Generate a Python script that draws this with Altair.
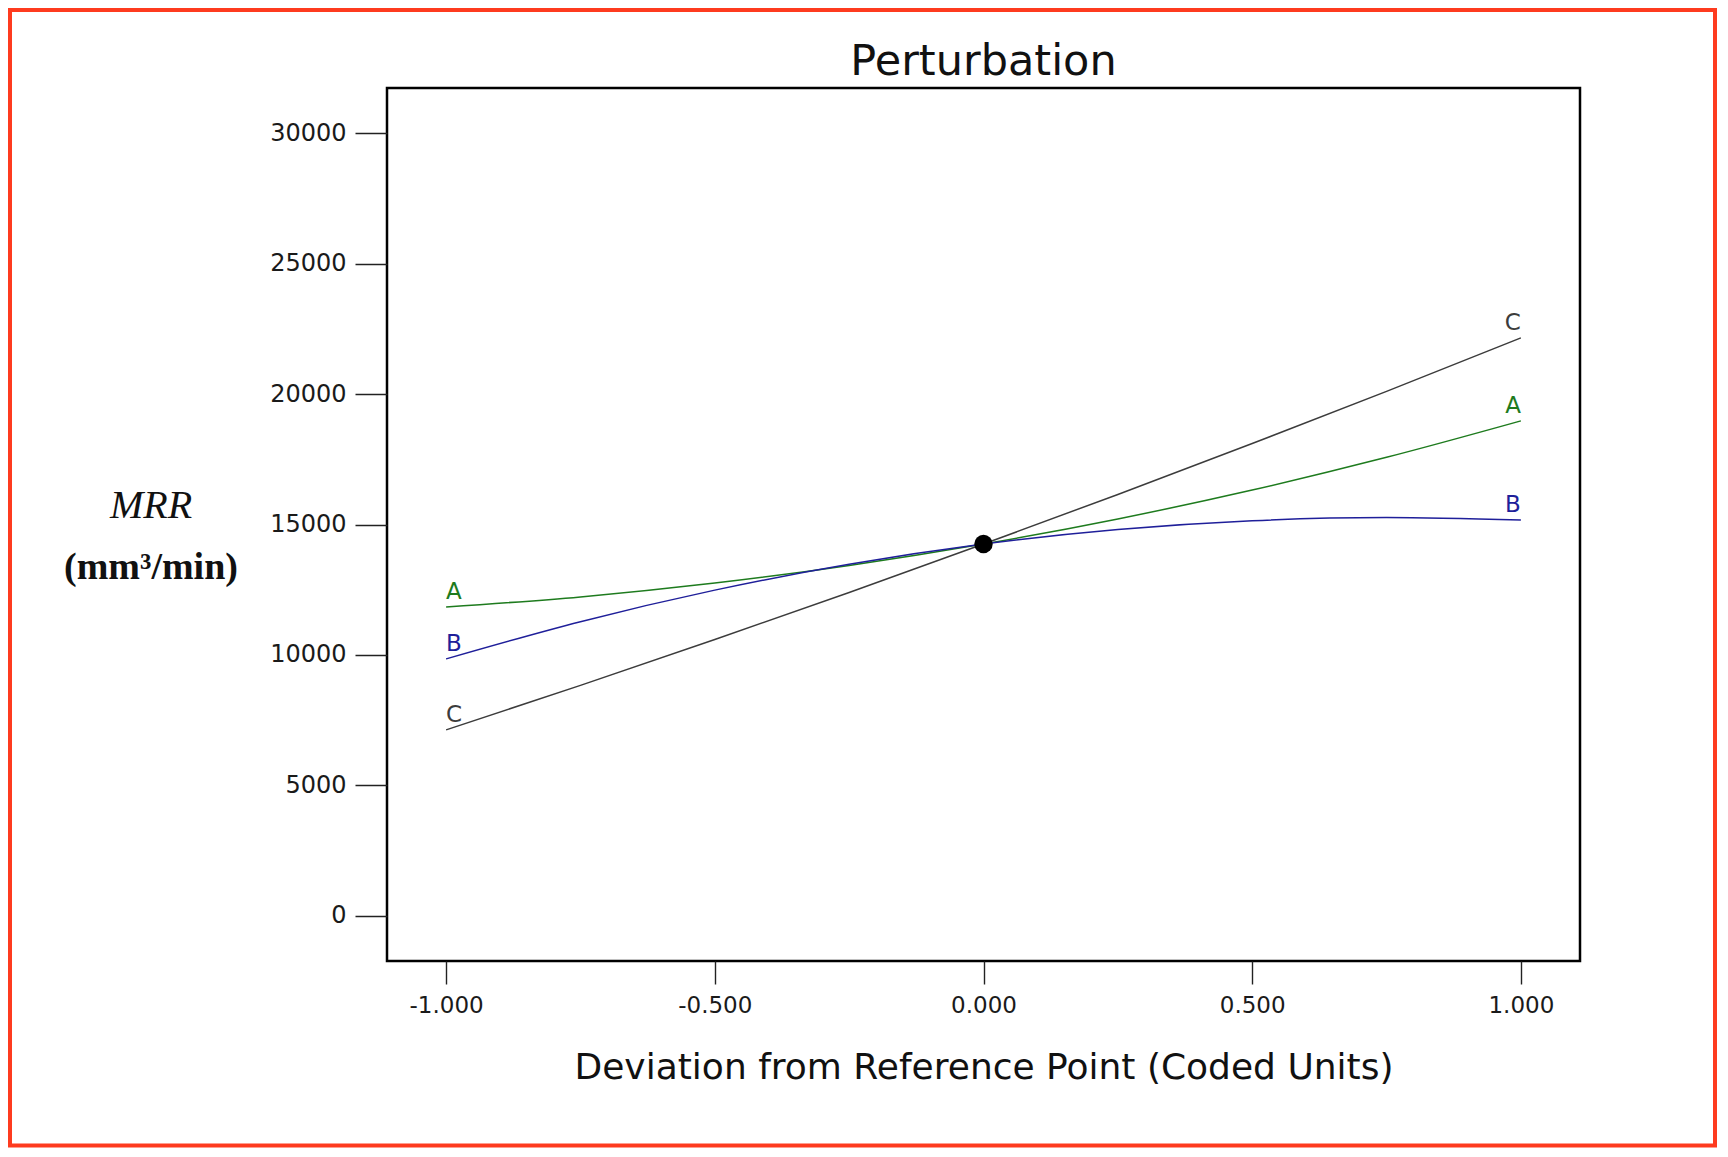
import altair as alt
import pandas as pd

# ---- data ----
x_points = [-1.0, -0.75, -0.5, -0.25, 0.0, 0.25, 0.5, 0.75, 1.0]
series_A = [11840, 12226, 12756, 13431, 14250, 15213, 16321, 17574, 18970]
series_B = [9850, 11276, 12485, 13476, 14250, 14806, 15145, 15266, 15170]
series_C = [7130, 8837, 10593, 12397, 14250, 16152, 18103, 20102, 22150]
factors = ["A", "B", "C"]
factor_colors = ["#1e7b1e", "#1f1f9a", "#3c3c3c"]
ref_x = [0.0]
ref_y = [14250]
x_ticks = [-1.0, -0.5, 0.0, 0.5, 1.0]
y_ticks = [0, 5000, 10000, 15000, 20000, 25000, 30000]
title_text = "Perturbation"
x_title = "Deviation from Reference Point (Coded Units)"
y_title_lines = ["MRR", "(mm³/min)"]

series = {"A": series_A, "B": series_B, "C": series_C}

rows = []
for f in factors:
    for xv, yv in zip(x_points, series[f]):
        rows.append({"factor": f, "x": xv, "value": yv})
df = pd.DataFrame(rows)

left_lab = pd.DataFrame({"factor": factors,
                         "x": [x_points[0]] * 3,
                         "value": [series[f][0] for f in factors]})
right_lab = pd.DataFrame({"factor": factors,
                          "x": [x_points[-1]] * 3,
                          "value": [series[f][-1] for f in factors]})
ref_df = pd.DataFrame({"x": ref_x, "value": ref_y})

FONT = "DejaVu Sans"

x_enc = alt.X("x:Q",
              scale=alt.Scale(domain=[-1.11, 1.11], nice=False, zero=False),
              axis=alt.Axis(values=x_ticks, title=x_title,
                            labelExpr="(datum.value < 0 ? '-' : '') + format(abs(datum.value), '.3f')",
                            tickSize=23, labelPadding=10, titlePadding=33,
                            titleFont=FONT, titleFontSize=36, titleFontWeight="normal",
                            titleColor="#111"))
y_enc = alt.Y("value:Q",
              scale=alt.Scale(domain=[-1725, 31725], nice=False, zero=False),
              axis=alt.Axis(values=y_ticks, title=None, format="d",
                            tickSize=32, labelPadding=9, labelFontSize=24))
color_enc = alt.Color("factor:N",
                      scale=alt.Scale(domain=factors, range=factor_colors),
                      legend=None)

border = alt.Chart(alt.Data(values=[{"k": 1}])).mark_rect(
    fillOpacity=0, stroke="#fe3b1f", strokeWidth=4
).encode(x=alt.value(-377), x2=alt.value(1328), y=alt.value(-78), y2=alt.value(1057.5))

lines = alt.Chart(df).mark_line(strokeWidth=1.5, interpolate="monotone").encode(
    x=x_enc, y=y_enc, color=color_enc, detail="factor:N"
)

ref_pt = alt.Chart(ref_df).mark_circle(size=340, color="black", opacity=1).encode(
    x=x_enc, y=y_enc
)

lab_l = alt.Chart(left_lab).mark_text(align="left", baseline="alphabetic", dy=-8,
                                      font=FONT, fontSize=23).encode(
    x=x_enc, y=y_enc, text="factor:N", color=color_enc
)
lab_r = alt.Chart(right_lab).mark_text(align="right", baseline="alphabetic", dy=-8,
                                       font=FONT, fontSize=23).encode(
    x=x_enc, y=y_enc, text="factor:N", color=color_enc
)

ytitle1 = alt.Chart(alt.Data(values=[{"k": 1}])).mark_text(
    font="Liberation Serif", fontSize=40, fontStyle="italic", align="center",
    baseline="middle", color="#111"
).encode(x=alt.value(-236), y=alt.value(418), text=alt.value(y_title_lines[0]))

ytitle2 = alt.Chart(alt.Data(values=[{"k": 1}])).mark_text(
    font="Liberation Serif", fontSize=38, fontWeight="bold", align="center",
    baseline="middle", color="#111"
).encode(x=alt.value(-236), y=alt.value(480), text=alt.value(y_title_lines[1]))

chart = alt.layer(border, lines, ref_pt, lab_l, lab_r, ytitle1, ytitle2).properties(
    width=1193, height=873,
    padding={"left": 379, "top": 80, "right": 140, "bottom": 188},
    autosize=alt.AutoSizeParams(type="none"),
    title=alt.TitleParams(title_text, font=FONT, fontSize=43, fontWeight="normal",
                          anchor="middle", frame="group", offset=-76, color="#111"),
).configure_view(
    stroke="black", strokeWidth=2.5
).configure_axis(
    grid=False, domain=False, tickColor="#222", tickWidth=1.4,
    labelFont=FONT, labelFontSize=23, labelColor="#1a1a1a"
)

chart.save("out.html", embed_options={"renderer": "svg", "actions": False})
